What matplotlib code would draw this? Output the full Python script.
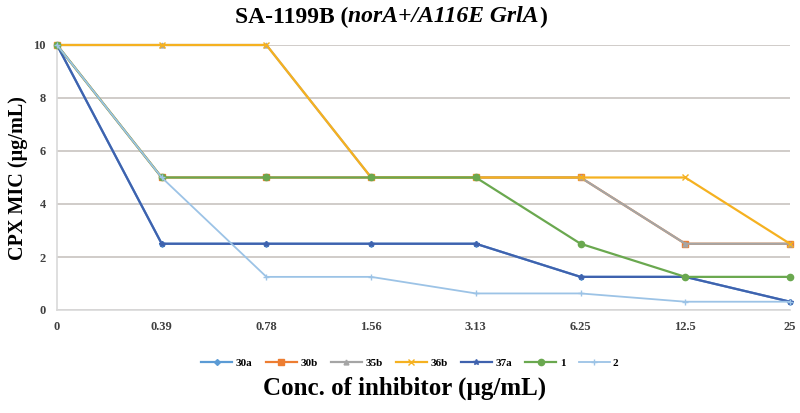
import matplotlib
matplotlib.use("Agg")
from matplotlib import pyplot as plt

## Data ##
Conc = ["0", "0.39", "0.78", "1.56", "3.13", "6.25", "12.5", "25"]

MIC_30a = [10, 2.5, 2.5, 2.5, 2.5, 1.25, 1.25, 0.3125]
MIC_30b = [10, 5, 5, 5, 5, 5, 2.5, 2.5]
MIC_35b = [10, 10, 10, 5, 5, 5, 2.5, 2.5]
MIC_36b = [10, 10, 10, 5, 5, 5, 5, 2.5]
MIC_37a = [10, 2.5, 2.5, 2.5, 2.5, 1.25, 1.25, 0.3125]
MIC_1 = [10, 5, 5, 5, 5, 2.5, 1.25, 1.25]
MIC_2 = [10, 5, 1.25, 1.25, 0.625, 0.625, 0.3125, 0.3125]

Labels = ["30a", "30b", "35b", "36b", "37a", "1", "2"]

## Style ##
serif = "Liberation Serif"
Colors = ["#5B9BD5", "#ED7D31", "#A5A5A5", "#F5B120", "#3F62AE", "#6AA84F", "#9CC3E6"]
Markers = ["D", "s", "^", "x", "*", "o", "+"]
Sizes = [3, 4.5, 3.5, 4, 4, 4.5, 5]
Widths = [1.6, 1.6, 1.6, 1.6, 1.6, 1.6, 1.3]

fig = plt.figure(figsize=(8, 4.13), dpi=100)
ax = fig.add_axes([57/800, 1-310/413, (790-57)/800, (310-45)/413])

x = list(range(len(Conc)))
series = [MIC_30a, MIC_30b, MIC_35b, MIC_36b, MIC_37a, MIC_1, MIC_2]
for vals, lab, c, m, s, w in zip(series, Labels, Colors, Markers, Sizes, Widths):
    ax.plot(x, vals, color=c, marker=m, markersize=s, linewidth=w, label=lab,
            clip_on=False, zorder=3)

ax.set_xlim(0, 7)
ax.set_ylim(0, 10)
ax.set_yticks([0, 2, 4, 6, 8, 10])
ax.set_xticks(x)
ax.set_xticklabels(Conc)
ax.yaxis.grid(True, color="#C8C4C0", linewidth=1.2)
ax.set_axisbelow(True)
for sp in ["top", "right"]:
    ax.spines[sp].set_visible(False)
for sp in ["left", "bottom"]:
    ax.spines[sp].set_color("#D9D9D9")
    ax.spines[sp].set_linewidth(1.2)
ax.tick_params(length=0, labelsize=9, labelcolor="#404040", pad=8)
for t in ax.get_xticklabels() + ax.get_yticklabels():
    t.set_family(serif)
    t.set_fontweight("bold")

fig.text(18/800, 1-178/413, "CPX MIC (µg/mL)", rotation=90, ha="center", va="center",
         fontsize=14.5, fontweight="bold", family=serif)

leg = ax.legend(loc="center", ncol=7, frameon=False,
                prop={"family": serif, "weight": "bold", "size": 8},
                handlelength=2.8, columnspacing=1.2, handletextpad=0.3)
leg.set_bbox_to_anchor((0.5125, (413-363)/413), transform=fig.transFigure)

fig.text(405/800, 1-388/413, "Conc. of inhibitor (µg/mL)", ha="center", va="center",
         fontsize=18, fontweight="bold", family=serif)

# title with italic part
parts = [("SA-1199B (", "normal"), ("norA+/A116E GrlA", "italic"), (")", "normal")]
fig.canvas.draw()
r = fig.canvas.get_renderer()
texts = []
for s, st in parts:
    t = fig.text(0, 1-17/413, s, ha="left", va="center", fontsize=17,
                 fontweight="bold", style=st, family=serif)
    texts.append(t)
widths = [t.get_window_extent(r).width for t in texts]
total = sum(widths)
xpos = 391 - total/2
for t, w in zip(texts, widths):
    t.set_x(xpos/800)
    xpos += w

plt.savefig("out.png", dpi=100)
